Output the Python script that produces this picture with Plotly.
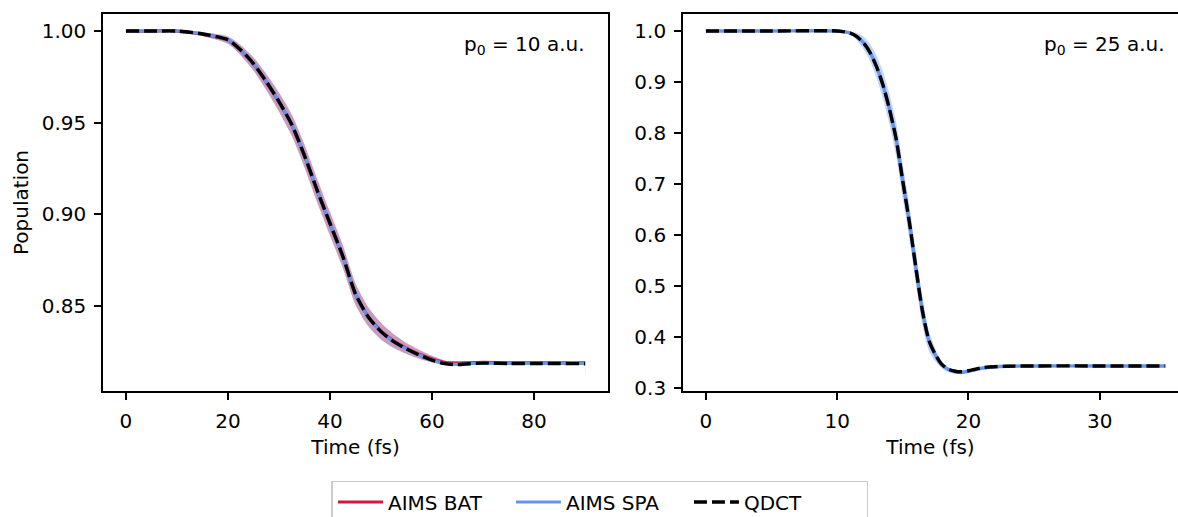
import plotly.graph_objects as go

FONT = "DejaVu Sans"
RED = "#DC143C"
BLUE = "#6495ED"

# ---------------- data: p0 = 10 a.u. ----------------
t_left = [0, 5, 10, 15, 20, 22.5, 25, 27.5, 30, 32.5, 35, 37.5, 40, 42.5, 45,
          47.5, 50, 52.5, 55, 57.5, 60, 62.5, 65, 67.5, 70, 75, 80, 85, 89.9, 90]
qdct_left = [1.0, 1.0, 1.0, 0.9984, 0.9952, 0.9897, 0.9822, 0.9725, 0.9615, 0.9490,
             0.9320, 0.9130, 0.8950, 0.8772, 0.8565, 0.8440, 0.8360, 0.8305, 0.8265, 0.8232,
             0.8205, 0.8185, 0.8180, 0.8185, 0.8188, 0.8186, 0.8186, 0.8186, 0.8185, 0.8185]
spa_left = [1.0, 1.0, 1.0, 0.9984, 0.9951, 0.9896, 0.9821, 0.9724, 0.9614, 0.9489,
            0.9319, 0.9129, 0.8949, 0.8771, 0.8564, 0.8439, 0.8360, 0.8305, 0.8265, 0.8232,
            0.8206, 0.8186, 0.8181, 0.8186, 0.8188, 0.8187, 0.8187, 0.8187, 0.8186, 0.8186]
bat_left = [1.0, 1.0, 1.0, 0.9983, 0.9950, 0.9895, 0.9820, 0.9722, 0.9612, 0.9487,
            0.9318, 0.9128, 0.8948, 0.8770, 0.8565, 0.8441, 0.8362, 0.8308, 0.8268, 0.8236,
            0.8210, 0.8191, 0.8188, 0.8190, 0.8192, 0.8190, 0.8190, 0.8190, 0.8190, 0.8190]
bat_err_lo = [0, 0, 0, 0.0010, 0.0020, 0.0028, 0.0036, 0.0044, 0.0052, 0.0058,
              0.0062, 0.0064, 0.0064, 0.0062, 0.0058, 0.0052, 0.0045, 0.0038, 0.0030, 0.0024,
              0.0018, 0.0012, 0.0009, 0.0008, 0.0007, 0.0006, 0.0006, 0.0006, 0.0006, 0.0062]
bat_err_hi = [0, 0, 0, 0.0010, 0.0020, 0.0028, 0.0036, 0.0044, 0.0052, 0.0058,
              0.0062, 0.0064, 0.0064, 0.0062, 0.0058, 0.0052, 0.0045, 0.0038, 0.0030, 0.0024,
              0.0018, 0.0012, 0.0009, 0.0008, 0.0007, 0.0006, 0.0006, 0.0006, 0.0006, 0.0006]

# ---------------- data: p0 = 25 a.u. ----------------
t_right = [0, 5, 10, 11, 11.5, 12, 12.5, 13, 13.5, 14, 14.5, 15, 15.5, 16, 16.5, 17,
           17.5, 18, 18.5, 19, 19.5, 20, 20.5, 21, 22, 23, 25, 30, 35]
qdct_right = [1.0, 1.0, 1.0, 0.996, 0.989, 0.977, 0.958, 0.930, 0.893, 0.845, 0.787,
              0.705, 0.625, 0.535, 0.450, 0.392, 0.364, 0.345, 0.336, 0.332, 0.331,
              0.333, 0.336, 0.339, 0.341, 0.342, 0.3425, 0.3425, 0.3425]
spa_right = [1.0, 1.0, 1.0, 0.996, 0.989, 0.977, 0.958, 0.930, 0.893, 0.845, 0.787,
             0.705, 0.625, 0.535, 0.450, 0.391, 0.363, 0.344, 0.335, 0.331, 0.330,
             0.332, 0.335, 0.338, 0.341, 0.342, 0.3425, 0.3425, 0.3425]
spa_err_right = [0, 0, 0, 0.003, 0.007, 0.012, 0.017, 0.022, 0.027, 0.030, 0.033,
                 0.034, 0.034, 0.032, 0.028, 0.020, 0.012, 0.007, 0.005, 0.004, 0.004,
                 0.003, 0.003, 0.002, 0.0015, 0.001, 0.001, 0.001, 0.001]

left_label = "p<sub>0</sub> = 10 a.u."
right_label = "p<sub>0</sub> = 25 a.u."
legend_names = ["AIMS BAT", "AIMS SPA", "QDCT"]


def band_xy(t, m, lo, hi):
    upper = [a + b for a, b in zip(m, hi)]
    lower = [a - b for a, b in zip(m, lo)]
    return list(t) + list(t)[::-1], upper + lower[::-1]


fig = go.Figure()

SPL = dict(shape="spline", smoothing=0.7)

# left panel
bx, by = band_xy(t_left, bat_left, bat_err_lo, bat_err_hi)
fig.add_trace(go.Scatter(x=bx, y=by, fill="toself", fillcolor="rgba(190,40,90,0.45)",
                         line=dict(width=0, **SPL), mode="lines", hoverinfo="skip",
                         showlegend=False, xaxis="x", yaxis="y"))
fig.add_trace(go.Scatter(x=bx, y=by, fill="toself", fillcolor="rgba(100,149,237,0.22)",
                         line=dict(width=0, **SPL), mode="lines", hoverinfo="skip",
                         showlegend=False, xaxis="x", yaxis="y"))
fig.add_trace(go.Scatter(x=t_left, y=bat_left, mode="lines", name=legend_names[0],
                         line=dict(color=RED, width=3.2, **SPL), xaxis="x", yaxis="y",
                         legendgroup="bat"))
fig.add_trace(go.Scatter(x=t_left, y=spa_left, mode="lines", name=legend_names[1],
                         line=dict(color=BLUE, width=3.2, **SPL), xaxis="x", yaxis="y",
                         legendgroup="spa"))
fig.add_trace(go.Scatter(x=t_left, y=qdct_left, mode="lines", name=legend_names[2],
                         line=dict(color="black", width=3.4, dash="13px,5px", **SPL),
                         xaxis="x", yaxis="y", legendgroup="qdct"))

# right panel
rx, ry = band_xy(t_right, spa_right, spa_err_right, spa_err_right)
fig.add_trace(go.Scatter(x=rx, y=ry, fill="toself", fillcolor="rgba(100,149,237,0.40)",
                         line=dict(width=0, **SPL), mode="lines", hoverinfo="skip",
                         showlegend=False, xaxis="x2", yaxis="y2"))
fig.add_trace(go.Scatter(x=t_right, y=spa_right, mode="lines", name=legend_names[1],
                         line=dict(color=BLUE, width=3.4, **SPL), xaxis="x2", yaxis="y2",
                         showlegend=False, legendgroup="spa"))
fig.add_trace(go.Scatter(x=t_right, y=qdct_right, mode="lines", name=legend_names[2],
                         line=dict(color="black", width=3.4, dash="13px,5px", **SPL),
                         xaxis="x2", yaxis="y2", showlegend=False, legendgroup="qdct"))

axis_common = dict(showline=True, linecolor="black", linewidth=1.6, ticks="outside",
                   ticklen=7, tickwidth=1.6, tickcolor="black", showgrid=False,
                   zeroline=False, tickfont=dict(family=FONT, size=20, color="black"),
                   ticklabelstandoff=4)

fig.update_layout(
    width=1178, height=517,
    margin=dict(l=103, r=0, t=14, b=126, autoexpand=False),
    paper_bgcolor="white", plot_bgcolor="white",
    font=dict(family=FONT, size=20, color="black"),
    xaxis=dict(domain=[0, 0.4698], range=[-4.5, 94.5], tickvals=[0, 20, 40, 60, 80],
               mirror=True, anchor="y",
               title=dict(text="Time (fs)", font=dict(family=FONT, size=20), standoff=8),
               **axis_common),
    yaxis=dict(range=[0.8036, 1.0093], tickvals=[0.85, 0.90, 0.95, 1.00],
               ticktext=["0.85", "0.90", "0.95", "1.00"], mirror=True, anchor="x",
               title=dict(text="Population", font=dict(family=FONT, size=20), standoff=8),
               **axis_common),
    xaxis2=dict(domain=[0.5395, 1.0], range=[-1.75, 35.97], tickvals=[0, 10, 20, 30],
                mirror=True, anchor="y2",
                title=dict(text="Time (fs)", font=dict(family=FONT, size=20), standoff=8),
                **axis_common),
    yaxis2=dict(range=[0.2933, 1.0334], tickvals=[0.3, 0.4, 0.5, 0.6, 0.7, 0.8, 0.9, 1.0],
                ticktext=["0.3", "0.4", "0.5", "0.6", "0.7", "0.8", "0.9", "1.0"],
                mirror=False, anchor="x2", **axis_common),
    legend=dict(orientation="h", x=0.4623, xanchor="center", y=-0.2387, yanchor="top",
                bordercolor="#cccccc", borderwidth=1.5, bgcolor="white",
                font=dict(family=FONT, size=20, color="black"), entrywidth=118,
                itemwidth=45, traceorder="normal"),
    annotations=[
        dict(text=left_label, x=0.4502, y=0.9178, xref="paper", yref="paper",
             xanchor="right", yanchor="middle", showarrow=False,
             font=dict(family=FONT, size=20, color="black")),
        dict(text=right_label, x=0.9898, y=0.9178, xref="paper", yref="paper",
             xanchor="right", yanchor="middle", showarrow=False,
             font=dict(family=FONT, size=20, color="black")),
    ],
)

fig.write_html("out.html")
